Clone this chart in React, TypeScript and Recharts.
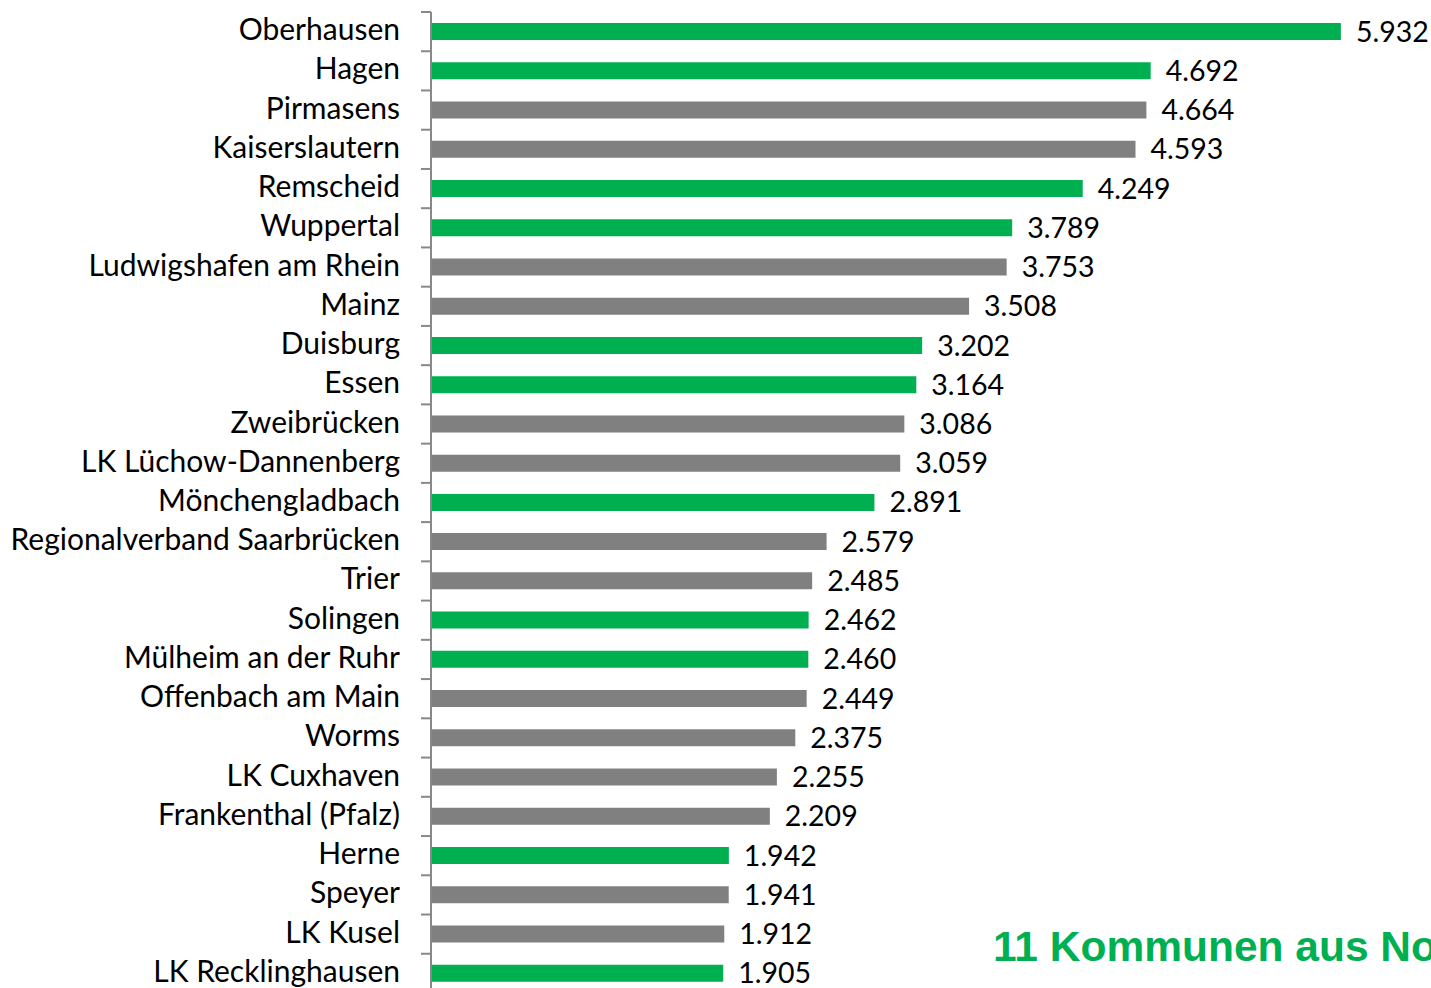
import { Bar, BarChart, Cell, LabelList, XAxis, YAxis } from "recharts";

const cities = [
  "Oberhausen",
  "Hagen",
  "Pirmasens",
  "Kaiserslautern",
  "Remscheid",
  "Wuppertal",
  "Ludwigshafen am Rhein",
  "Mainz",
  "Duisburg",
  "Essen",
  "Zweibrücken",
  "LK Lüchow-Dannenberg",
  "Mönchengladbach",
  "Regionalverband Saarbrücken",
  "Trier",
  "Solingen",
  "Mülheim an der Ruhr",
  "Offenbach am Main",
  "Worms",
  "LK Cuxhaven",
  "Frankenthal (Pfalz)",
  "Herne",
  "Speyer",
  "LK Kusel",
  "LK Recklinghausen",
];

const values = [
  5932, 4692, 4664, 4593, 4249, 3789, 3753, 3508, 3202, 3164, 3086, 3059, 2891,
  2579, 2485, 2462, 2460, 2449, 2375, 2255, 2209, 1942, 1941, 1912, 1905,
];

const fromNrw = [
  true, true, false, false, true, true, false, false, true, true, false, false, true,
  false, false, true, true, false, false, false, false, true, false, false, true,
];

const GREEN = "#00B050";
const GREY = "#808080";
const AXIS = "#888888";
const LABEL_FONT = "Lato, 'Noto Sans', sans-serif";

const CHART_HEIGHT = 1000;
const MARGIN_TOP = 12;
const MARGIN_BOTTOM = 7;
const BAND = (CHART_HEIGHT - MARGIN_TOP - MARGIN_BOTTOM) / cities.length;

const data = cities.map((name, i) => ({ name, value: values[i], nrw: fromNrw[i] }));

function formatValue(v: number) {
  const thousands = Math.floor(v / 1000);
  const rest = String(v % 1000).padStart(3, "0");
  return `${thousands}.${rest}`;
}

function CityTick({ y, payload }: any) {
  const top = y - BAND / 2;
  return (
    <g>
      <line x1={421} x2={431} y1={top} y2={top} stroke={AXIS} strokeWidth={2} />
      <text
        x={400}
        y={y}
        dy={8.5}
        textAnchor="end"
        fontFamily={LABEL_FONT}
        fontSize={30}
        fill="#000"
      >
        {payload.value}
      </text>
    </g>
  );
}

export default function App() {
  return (
    <div
      style={{
        position: "fixed",
        left: 0,
        top: 0,
        width: 1431,
        height: 988,
        overflow: "hidden",
        background: "#fff",
      }}
    >
      <BarChart
        width={1431}
        height={CHART_HEIGHT}
        data={data}
        layout="vertical"
        margin={{ top: MARGIN_TOP, right: 3, bottom: MARGIN_BOTTOM, left: 0 }}
        barCategoryGap={0}
      >
        <XAxis type="number" domain={[0, 6500]} hide />
        <YAxis
          type="category"
          dataKey="name"
          width={431}
          axisLine={{ stroke: AXIS, strokeWidth: 2 }}
          tickLine={false}
          tick={<CityTick />}
          interval={0}
        />
        <Bar dataKey="value" barSize={17} isAnimationActive={false}>
          {data.map((d) => (
            <Cell key={d.name} fill={d.nrw ? GREEN : GREY} />
          ))}
          <LabelList
            dataKey="value"
            position="right"
            offset={15}
            formatter={(v: any) => formatValue(Number(v))}
            style={{ fontFamily: LABEL_FONT, fontSize: 28.5, fill: "#000" }}
          />
        </Bar>
      </BarChart>
      <div
        style={{
          position: "absolute",
          left: 993,
          top: 921,
          whiteSpace: "nowrap",
          fontFamily: "'Liberation Sans', Arial, sans-serif",
          fontWeight: "bold",
          fontSize: 42.5,
          lineHeight: "52px",
          color: GREEN,
        }}
      >
        11 Kommunen aus Nordrhein-Westfalen
      </div>
    </div>
  );
}
